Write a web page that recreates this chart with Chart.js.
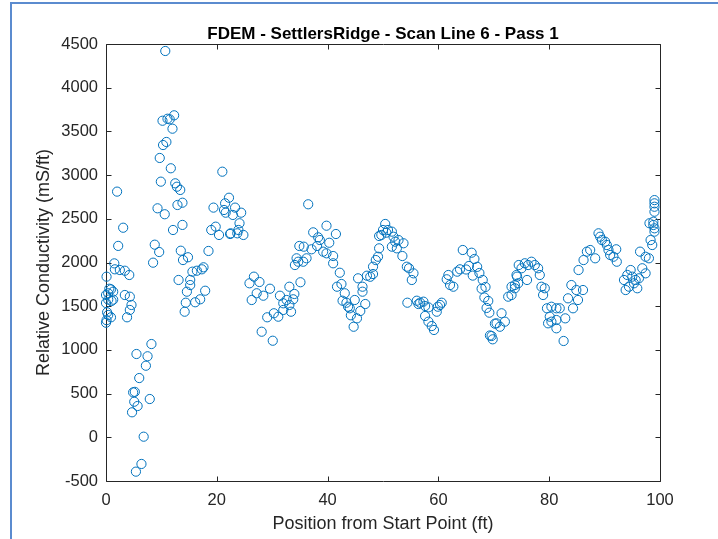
<!DOCTYPE html>
<html>
<head>
<meta charset="utf-8">
<script src="https://cdn.jsdelivr.net/npm/chart.js@4.4.1/dist/chart.umd.min.js"></script>
<style>
  html, body { margin: 0; padding: 0; background: #fff; }
  #wrap { position: relative; width: 718px; height: 539px; overflow: hidden; }
  #wrap canvas { position: absolute; left: 0; top: 0; }
  #frame {
    position: absolute; left: 10px; top: 2px; right: -10px; bottom: -10px;
    border-top: 2px solid #5b8bcf; border-left: 2px solid #5b8bcf;
    pointer-events: none;
  }
</style>
</head>
<body>
<div id="wrap">
  <canvas id="chart" width="718" height="539"></canvas>
  <div id="frame"></div>
</div>
<script>
// Position along the scan line (ft)
const positionFt = [
  0.0, 0.1, 0.2, 0.4, 0.9, 0.0, 0.4, 1.3, 0.0, 0.4,
  1.3, 0.9, 0.6, 1.0, 0.1, 1.5, 1.6, 2.5, 3.4, 4.2,
  3.4, 4.3, 4.6, 4.3, 3.8, 2.2, 3.1, 2.0, 4.9, 5.2,
  5.1, 5.7, 4.7, 5.5, 6.0, 7.2, 7.5, 8.2, 7.9, 6.8,
  6.4, 5.4, 8.5, 8.8, 9.6, 9.3, 9.9, 9.7, 10.2, 10.3,
  10.9, 10.6, 10.7, 11.1, 11.5, 12.3, 12.0, 11.7, 12.1, 12.5,
  12.8, 13.4, 12.9, 13.8, 13.8, 13.5, 13.9, 14.8, 13.1, 15.2,
  15.2, 14.6, 14.4, 14.2, 15.6, 16.4, 17.3, 17.6, 17.9, 17.0,
  16.1, 18.5, 19.0, 19.4, 19.8, 20.4, 21.0, 21.3, 21.5, 21.6,
  22.2, 22.4, 22.5, 22.9, 23.3, 23.7, 24.1, 24.4, 24.8, 23.9,
  25.9, 26.7, 27.7, 27.2, 26.3, 28.4, 29.6, 29.1, 28.1, 30.1,
  30.3, 31.1, 31.4, 32.0, 32.6, 32.0, 33.1, 33.1, 33.4, 33.8,
  34.0, 35.1, 34.1, 34.4, 34.7, 35.6, 34.9, 35.7, 36.2, 36.5,
  37.1, 37.4, 38.1, 38.3, 38.6, 39.2, 39.8, 39.8, 40.3, 41.0,
  41.0, 41.5, 42.2, 42.5, 41.7, 43.1, 42.7, 43.4, 43.7, 44.0,
  44.2, 44.7, 45.3, 45.9, 44.9, 46.8, 46.3, 46.3, 45.5, 47.1,
  47.7, 48.2, 48.2, 48.7, 49.1, 49.3, 49.3, 50.4, 50.0, 49.7,
  50.6, 50.9, 51.6, 51.9, 52.2, 52.8, 53.7, 51.6, 52.5, 53.5,
  54.3, 54.7, 55.5, 55.2, 54.4, 56.1, 56.7, 57.3, 56.4, 57.6,
  58.2, 57.6, 58.2, 58.8, 59.2, 59.7, 60.6, 60.3, 59.9, 61.5,
  62.1, 61.8, 62.7, 63.4, 63.9, 64.4, 65.0, 65.5, 66.0, 66.5,
  67.0, 66.2, 67.4, 68.0, 67.8, 68.5, 68.3, 69.0, 68.7, 69.2,
  69.6, 69.8, 69.3, 71.4, 72.0, 70.5, 71.1, 70.2, 72.6, 73.2,
  73.8, 74.5, 74.2, 73.2, 73.8, 74.4, 74.1, 75.0, 75.6, 76.2,
  76.8, 77.4, 78.0, 78.3, 76.0, 78.6, 78.9, 79.2, 79.6, 80.4,
  81.3, 81.9, 80.1, 79.8, 80.4, 81.3, 82.9, 81.3, 82.6, 83.4,
  84.0, 84.3, 84.9, 85.2, 86.1, 85.3, 86.2, 86.8, 87.4, 88.3,
  88.9, 89.2, 89.5, 90.1, 90.4, 90.7, 91.0, 91.6, 92.1, 92.2,
  93.5, 93.8, 94.4, 94.7, 95.0, 94.1, 95.3, 95.9, 95.6, 96.2,
  96.8, 97.4, 96.4, 97.4, 98.0, 98.3, 98.6, 98.1, 99.0, 99.0,
  99.0, 99.0, 98.8, 98.8, 99.0, 99.0
];

// Relative conductivity readings (mS/ft), same order as positionFt
const conductivity = [
  1311, 1340, 1430, 1400, 1373, 1537, 1575, 1575, 1628, 1648,
  1666, 1693, 1700, 1560, 1838, 1990, 1922, 1914, 1906, 1857,
  1628, 1609, 1514, 1457, 1373, 2190, 2398, 2811, 514, 520,
  407, 358, 286, 953, 678, 819, 927, 1067, 438, 7,
  -305, -393, 1998, 2204, 2120, 2620, 2925, 3196, 3622, 3344,
  3379, 2552, 4420, 3645, 3638, 3684, 3531, 3078, 2372, 2906,
  2867, 2830, 2658, 2684, 2430, 2135, 2028, 2060, 1800, 1800,
  1742, 1666, 1540, 1437, 1895, 1906, 1922, 1945, 1677, 1579,
  1545, 2132, 2372, 2628, 2410, 2315, 3039, 2601, 2677, 2570,
  2741, 2326, 2334, 2544, 2628, 2334, 2449, 2570, 2315, 2372,
  1762, 1838, 1777, 1648, 1571, 1620, 1700, 1373, 1208, 1105,
  1419, 1380, 1620, 1533, 1571, 1457, 1723, 1514, 1437, 1579,
  1640, 1774, 1971, 2048, 2009, 2009, 2189, 2181, 2048, 2666,
  2151, 2345, 2189, 2288, 2257, 2124, 2105, 2421, 2226, 2074,
  1991, 2326, 1883, 1754, 1723, 1648, 1563, 1540, 1494, 1476,
  1396, 1265, 1361, 1445, 1571, 1525, 1666, 1723, 1819, 1849,
  1837, 1868, 1952, 2028, 2066, 2162, 2303, 2441, 2372, 2315,
  2341, 2372, 2353, 2295, 2238, 2257, 2220, 2181, 2162, 2074,
  1952, 1934, 1876, 1800, 1540, 1563, 1540, 1552, 1525, 1502,
  1487, 1388, 1323, 1273, 1228, 1437, 1540, 1514, 1494, 1808,
  1742, 1857, 1723, 1895, 1922, 2143, 1920, 1960, 2112, 2040,
  1950, 1850, 1880, 1800, 1700, 1720, 1600, 1560, 1480, 1426,
  1159, 1121, 1165, 1419, 1323, 1304, 1265, 1300, 1609, 1723,
  1742, 1971, 1838, 1628, 1705, 1762, 1857, 1934, 1991, 1971,
  2009, 1971, 1934, 1857, 1800, 1723, 1628, 1705, 1476, 1494,
  1476, 1476, 1380, 1304, 1323, 1342, 1361, 1247, 1102, 1590,
  1742, 1476, 1685, 1571, 1685, 1914, 2028, 2124, 2143, 2048,
  2334, 2295, 2257, 2238, 2200, 2143, 2086, 2066, 2151, 2009,
  1800, 1685, 1723, 1914, 1838, 1857, 1762, 1705, 1800, 1819,
  1934, 1876, 2124, 2066, 2048, 2257, 2200, 2449, 2714, 2677,
  2638, 2581, 2467, 2429, 2391, 2353
];

// Axis limits and tick spacing
const xTicks = [0, 20, 40, 60, 80, 100];
const yTicks = [-500, 0, 500, 1000, 1500, 2000, 2500, 3000, 3500, 4000, 4500];

const chartTitle = 'FDEM - SettlersRidge - Scan Line 6 - Pass 1';

const points = positionFt.map((x, i) => ({ x: x, y: conductivity[i] }));

const AXIS_COLOR = '#262626';
const FONT = '"Liberation Sans", Arial, Helvetica, sans-serif';

// Closed axes box with inward tick marks on all four sides,
// plus the title centred over the plotting area
const axesBox = {
  id: 'axesBox',
  beforeDatasetsDraw(chart) {
    const { ctx, chartArea: a, scales } = chart;
    const L = Math.round(a.left) + 0.5, R = Math.round(a.right) + 0.5;
    const T = Math.round(a.top) + 0.5, B = Math.round(a.bottom) + 0.5;
    const len = 5;
    ctx.save();
    ctx.strokeStyle = AXIS_COLOR;
    ctx.lineWidth = 1;
    ctx.beginPath();
    ctx.rect(L, T, R - L, B - T);
    scales.x.ticks.forEach(t => {
      const px = Math.round(scales.x.getPixelForValue(t.value)) + 0.5;
      ctx.moveTo(px, B); ctx.lineTo(px, B - len);
      ctx.moveTo(px, T); ctx.lineTo(px, T + len);
    });
    scales.y.ticks.forEach(t => {
      const py = Math.round(scales.y.getPixelForValue(t.value)) + 0.5;
      ctx.moveTo(L, py); ctx.lineTo(L + len, py);
      ctx.moveTo(R, py); ctx.lineTo(R - len, py);
    });
    ctx.stroke();

    ctx.fillStyle = '#000';
    ctx.font = 'bold 17px ' + FONT;
    ctx.textAlign = 'center';
    ctx.textBaseline = 'alphabetic';
    ctx.fillText(chartTitle, (a.left + a.right) / 2, a.top - 5);
    ctx.restore();
  }
};

new Chart(document.getElementById('chart'), {
  type: 'scatter',
  data: {
    datasets: [{
      data: points,
      showLine: false,
      pointStyle: 'circle',
      pointRadius: 4.6,
      pointHoverRadius: 4.6,
      pointBorderWidth: 1,
      borderColor: '#0072BD',
      backgroundColor: 'rgba(0,0,0,0)',
      clip: false
    }]
  },
  options: {
    responsive: false,
    animation: false,
    devicePixelRatio: 1,
    layout: { padding: { left: 0, right: 58, top: 44, bottom: 0 } },
    plugins: {
      legend: { display: false },
      tooltip: { enabled: false },
      title: { display: false }
    },
    scales: {
      x: {
        type: 'linear',
        min: xTicks[0],
        max: xTicks[xTicks.length - 1],
        afterBuildTicks: s => { s.ticks = xTicks.map(v => ({ value: v })); },
        afterFit: s => { s.height = 58; },
        grid: { display: false, drawTicks: false },
        border: { display: false },
        ticks: {
          color: AXIS_COLOR, padding: 10, maxRotation: 0,
          font: { family: FONT, size: 16.5 },
          callback: v => String(v)
        },
        title: {
          display: true,
          text: 'Position from Start Point (ft)',
          color: AXIS_COLOR,
          font: { family: FONT, size: 18, lineHeight: 1.2 },
          padding: { top: 0, bottom: 4 }
        }
      },
      y: {
        type: 'linear',
        min: yTicks[0],
        max: yTicks[yTicks.length - 1],
        afterBuildTicks: s => { s.ticks = yTicks.map(v => ({ value: v })); },
        afterFit: s => { s.width = 106; },
        grid: { display: false, drawTicks: false },
        border: { display: false },
        ticks: {
          color: AXIS_COLOR, padding: 8,
          font: { family: FONT, size: 16.5 },
          callback: v => String(v)
        },
        title: {
          display: true,
          text: 'Relative Conductivity (mS/ft)',
          color: AXIS_COLOR,
          font: { family: FONT, size: 18, lineHeight: 1.2 },
          padding: { top: 33, bottom: 0 }
        }
      }
    }
  },
  plugins: [axesBox]
});
</script>
</body>
</html>
